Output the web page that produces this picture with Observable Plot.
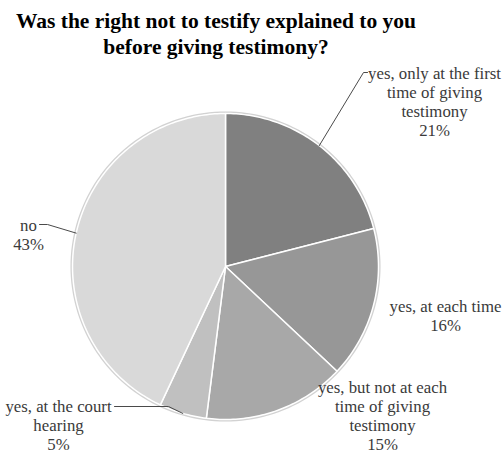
<!DOCTYPE html>
<html><head><meta charset="utf-8">
<script src="https://cdn.jsdelivr.net/npm/d3@7"></script>
<script src="https://cdn.jsdelivr.net/npm/@observablehq/plot@0.6"></script>
<style>
body{margin:0;background:#fff;width:502px;height:456px;overflow:hidden}
#title{width:432px;height:60px;box-sizing:border-box;padding-top:8px;font-family:"Liberation Serif",serif;font-weight:bold;font-size:21.5px;line-height:26px;text-align:center;color:#000}
#chart svg{display:block}
</style></head><body>
<div id="title">Was the right not to testify explained to you<br>before giving testimony?</div>
<div id="chart"></div>
<script>
// ---- data ----
const categories = [
  "yes, only at the first time of giving testimony",
  "yes, at each time",
  "yes, but not at each time of giving testimony",
  "yes, at the court hearing",
  "no"
];
const shares = [21, 16, 15, 5, 43];
const labelText = [
  "yes, only at the first\ntime of giving\ntestimony\n21%",
  "yes, at each time\n16%",
  "yes, but not at each\ntime of giving\ntestimony\n15%",
  "yes, at the court\nhearing\n5%",
  "no\n43%"
];
const grays = ["#808080", "#979797", "#a8a8a8", "#c0c0c0", "#d9d9d9"];

// ---- layout (page pixels) ----
const cx = 225, cy = 266, R = 153;
const top0 = 60; // svg starts below the title
const labelPos = [[434, 65], [445, 298], [382, 379], [58, 398], [28, 217]];
const leaderPts = {
  0: {before: [], after: [[363, 72], [367, 72]]},
  3: {before: [[114, 406], [168, 406]], after: []},
  4: {before: [[39, 224], [47, 224]], after: []}
};

const data = categories.map((c, i) => ({cat: c, share: shares[i]}));
const arcs = d3.pie().sort(null).value(d => d.share)(data);

const slicePts = [];
arcs.forEach(a => {
  const cat = a.data.cat;
  const n = Math.max(2, Math.ceil((a.endAngle - a.startAngle) / (Math.PI / 180)));
  slicePts.push({cat, x: cx, y: cy});
  for (let i = 0; i <= n; i++) {
    const t = a.startAngle + (a.endAngle - a.startAngle) * i / n;
    slicePts.push({cat, x: cx + R * Math.sin(t), y: cy - R * Math.cos(t)});
  }
});

const ring = d3.range(0, 361, 2).map(d => {
  const t = d * Math.PI / 180;
  return {x: cx + (R + 0.8) * Math.sin(t), y: cy - (R + 0.8) * Math.cos(t)};
});

const leaders = [];
Object.entries(leaderPts).forEach(([k, v]) => {
  const a = arcs[+k];
  const m = (a.startAngle + a.endAngle) / 2;
  const mid = [cx + R * Math.sin(m), cy - R * Math.cos(m)];
  const pts = [...v.before, mid, ...v.after];
  pts.forEach(p => leaders.push({id: k, x: p[0], y: p[1]}));
});

const labels = categories.map((c, i) => ({cat: c, text: labelText[i], x: labelPos[i][0], y: labelPos[i][1]}));

const chart = Plot.plot({
  width: 502,
  height: 396,
  margin: 0,
  style: {background: "#fff", overflow: "visible"},
  x: {domain: [0, 502], range: [0, 502], axis: null},
  y: {domain: [top0, 456], range: [0, 396], axis: null},
  color: {domain: categories, range: grays},
  marks: [
    Plot.line(ring, {x: "x", y: "y", stroke: "#d2d2d2", strokeWidth: 2.5, curve: "linear-closed"}),
    Plot.line(slicePts, {x: "x", y: "y", z: "cat", fill: "cat", stroke: "white", strokeWidth: 1.5, strokeLinejoin: "round", curve: "linear-closed"}),
    Plot.line(leaders, {x: "x", y: "y", z: "id", stroke: "#4a4a4a", strokeWidth: 1}),
    Plot.text(labels, {x: "x", y: "y", text: "text", fontSize: 16.8, lineHeight: 1.13, lineAnchor: "top", textAnchor: "middle", fill: "#3a3a3a", fontFamily: "Liberation Serif"})
  ]
});
document.getElementById("chart").appendChild(chart);
</script>
</body></html>
